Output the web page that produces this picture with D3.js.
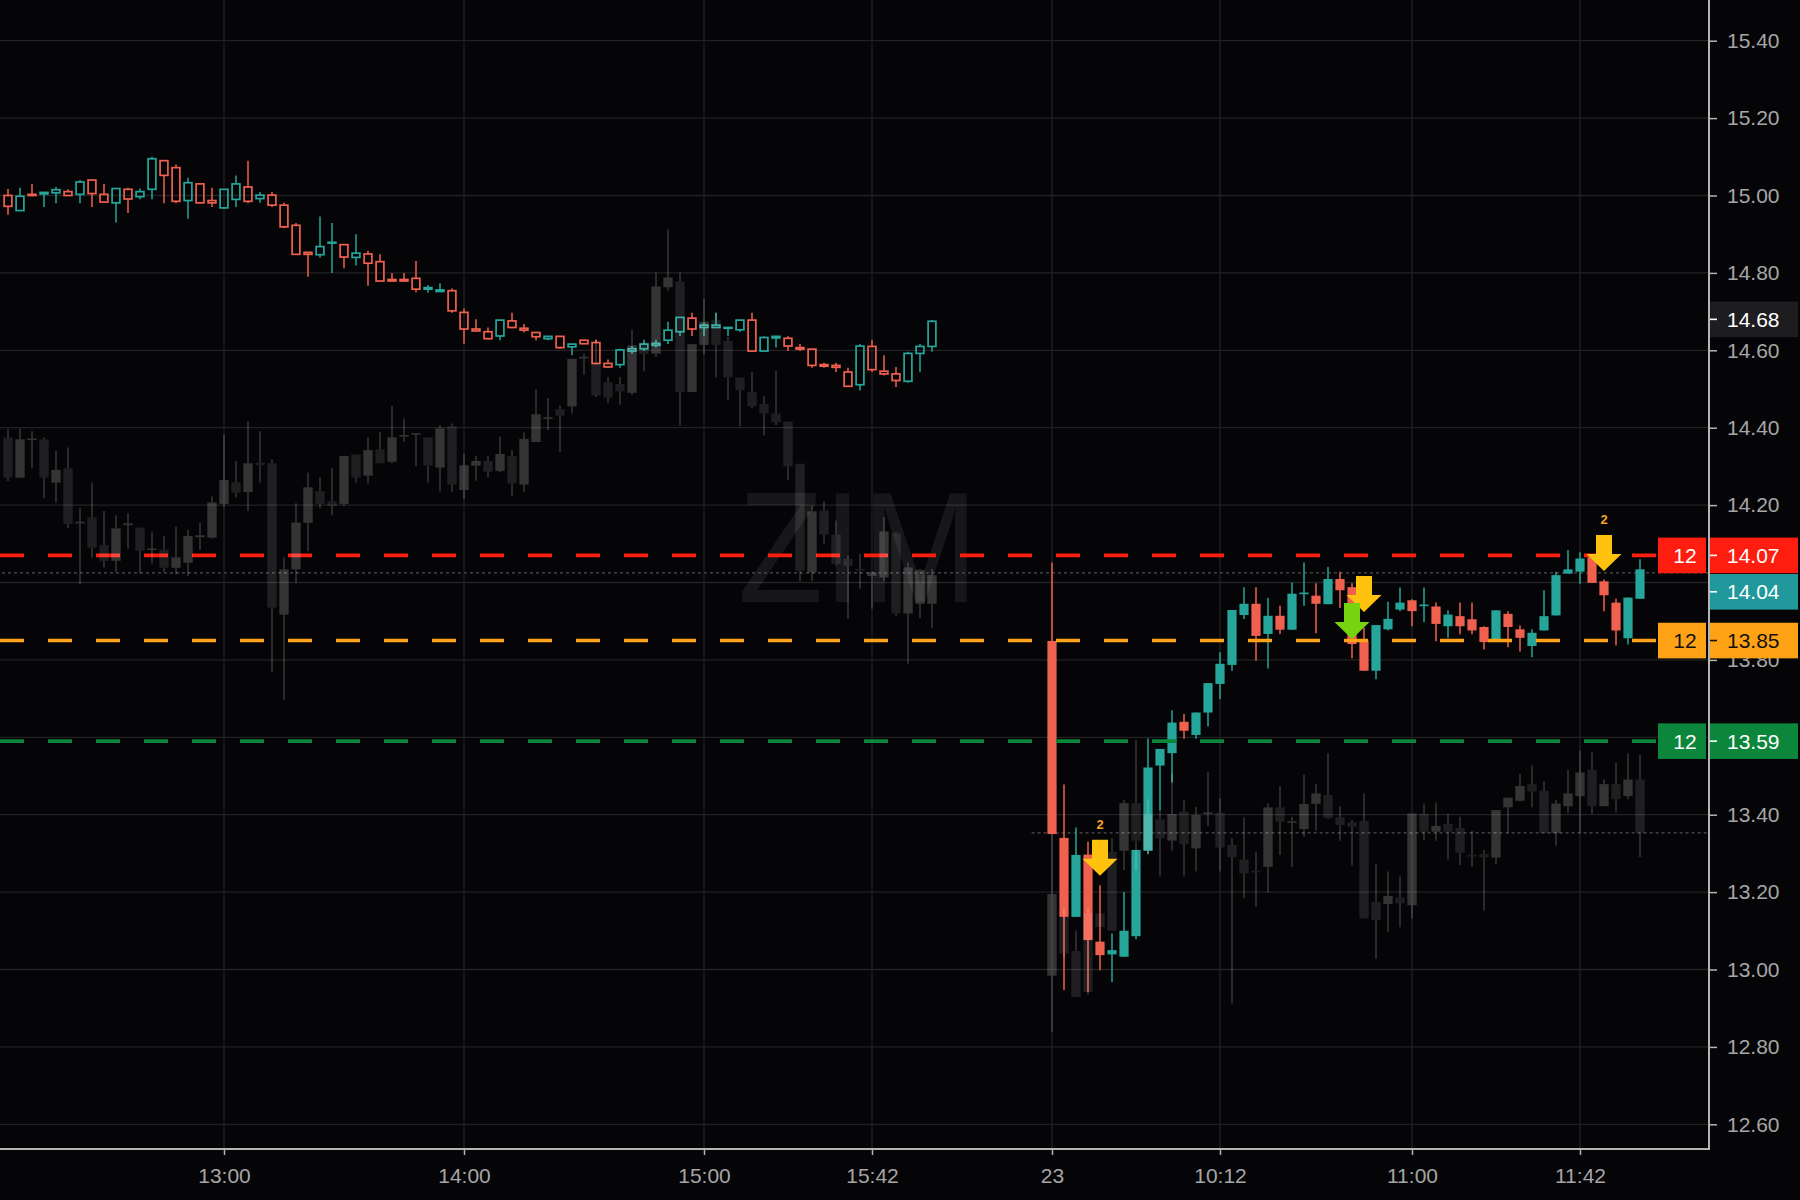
<!DOCTYPE html>
<html><head><meta charset="utf-8">
<script src="https://cdn.jsdelivr.net/npm/d3@7"></script>
<style>html,body{margin:0;padding:0;background:#050507;} svg{display:block}</style>
</head><body>
<svg id="chart" width="1800" height="1200"></svg>
<script>
// ---------- DATA ----------
// previous session (12:06 .. 15:57, 3-minute bars) [open, high, low, close]
const leftCandles = [
[15.00,15.017,14.95,14.972],[14.961,15.02,14.96,14.998],[15.003,15.03,14.998,15.00],[15.004,15.009,14.97,15.008],
[15.007,15.022,14.98,15.015],[15.01,15.016,15.00,15.00],[15.003,15.04,14.98,15.035],[15.04,15.04,14.97,15.005],
[15.003,15.03,14.983,14.983],[14.981,15.018,14.93,15.018],[15.016,15.02,14.955,14.991],[14.997,15.018,14.99,15.01],
[15.016,15.10,14.99,15.095],[15.09,15.09,14.98,15.052],[15.072,15.08,14.98,14.985],[14.987,15.046,14.94,15.033],
[15.03,15.03,14.981,14.981],[14.987,15.02,14.97,14.981],[14.968,15.016,14.965,15.016],[14.99,15.052,14.97,15.03],
[15.022,15.09,14.98,14.985],[14.992,15.009,14.981,15.001],[15.001,15.009,14.97,14.975],[14.975,14.981,14.916,14.919],
[14.923,14.929,14.848,14.848],[14.853,14.853,14.79,14.848],[14.847,14.946,14.84,14.868],[14.877,14.929,14.80,14.879],
[14.873,14.873,14.812,14.841],[14.84,14.90,14.819,14.851],[14.849,14.857,14.767,14.825],[14.829,14.848,14.779,14.779],
[14.783,14.80,14.779,14.779],[14.783,14.80,14.779,14.779],[14.786,14.831,14.75,14.758],[14.758,14.769,14.749,14.762],
[14.752,14.773,14.752,14.756],[14.754,14.76,14.697,14.702],[14.698,14.708,14.617,14.655],[14.655,14.68,14.65,14.65],
[14.648,14.659,14.628,14.63],[14.637,14.678,14.626,14.678],[14.676,14.697,14.657,14.659],[14.657,14.668,14.646,14.652],
[14.646,14.646,14.626,14.635],[14.63,14.636,14.626,14.636],[14.636,14.636,14.604,14.607],[14.609,14.616,14.587,14.616],
[14.626,14.626,14.617,14.617],[14.62,14.627,14.566,14.566],[14.566,14.576,14.555,14.557],[14.563,14.604,14.555,14.601],
[14.598,14.611,14.591,14.604],[14.604,14.627,14.598,14.616],[14.613,14.627,14.607,14.618],[14.626,14.674,14.616,14.652],
[14.648,14.685,14.637,14.685],[14.683,14.697,14.637,14.655],[14.659,14.672,14.637,14.665],[14.659,14.697,14.657,14.665],
[14.657,14.659,14.637,14.659],[14.653,14.678,14.648,14.678],[14.678,14.697,14.598,14.598],[14.598,14.636,14.598,14.633],
[14.632,14.636,14.607,14.636],[14.631,14.636,14.598,14.611],[14.607,14.616,14.598,14.603],[14.603,14.604,14.555,14.561],
[14.563,14.568,14.555,14.559],[14.561,14.568,14.544,14.556],[14.544,14.555,14.507,14.507],[14.511,14.616,14.496,14.611],
[14.61,14.627,14.544,14.55],[14.546,14.587,14.535,14.539],[14.539,14.557,14.505,14.522],[14.52,14.596,14.516,14.592],
[14.592,14.616,14.544,14.61],[14.61,14.678,14.596,14.675]
];
// current session (09:30 .. 11:57)
const rightCandles = [
[13.849,14.052,13.35,13.35],[13.34,13.478,12.947,13.136],[13.136,13.367,13.136,13.296],[13.297,13.33,12.942,13.076],
[13.072,13.218,12.998,13.037],[13.039,13.093,12.968,13.05],[13.033,13.20,13.033,13.10],[13.086,13.309,13.078,13.309],
[13.307,13.597,13.298,13.522],[13.527,13.57,13.41,13.57],[13.559,13.67,13.483,13.638],[13.64,13.66,13.596,13.617],
[13.606,13.664,13.596,13.664],[13.664,13.74,13.628,13.74],[13.738,13.82,13.698,13.79],[13.787,13.929,13.772,13.929],
[13.916,13.988,13.906,13.945],[13.945,13.988,13.798,13.862],[13.867,13.96,13.778,13.914],[13.914,13.94,13.867,13.878],
[13.878,14.00,13.878,13.971],[13.97,14.052,13.94,13.974],[13.966,13.998,13.869,13.945],[13.944,14.04,13.944,14.009],
[14.009,14.028,13.934,13.98],[13.988,13.998,13.804,13.841],[13.85,13.884,13.772,13.772],[13.772,13.89,13.75,13.89],
[13.879,13.95,13.876,13.906],[13.93,13.987,13.926,13.948],[13.954,13.957,13.887,13.926],[13.939,13.987,13.898,13.943],
[13.938,13.948,13.848,13.893],[13.887,13.928,13.857,13.917],[13.913,13.948,13.866,13.887],[13.905,13.948,13.866,13.876],
[13.885,13.887,13.827,13.846],[13.846,13.928,13.846,13.928],[13.919,13.926,13.833,13.885],[13.879,13.889,13.822,13.857],
[13.836,13.879,13.807,13.87],[13.876,13.98,13.876,13.913],[13.915,14.028,13.915,14.019],[14.023,14.084,14.023,14.034],
[14.028,14.078,13.997,14.062],[14.068,14.068,13.999,13.999],[14.003,14.008,13.926,13.967],[13.948,13.958,13.837,13.876],
[13.856,13.961,13.84,13.961],[13.958,14.06,13.958,14.034]
];
// overlaid comparison series (grey), previous session
const leftGrey = [
[14.375,14.397,14.262,14.271],[14.271,14.398,14.271,14.37],[14.368,14.391,14.295,14.372],[14.37,14.375,14.218,14.271],
[14.258,14.34,14.207,14.291],[14.295,14.349,14.14,14.151],[14.153,14.193,13.996,14.157],[14.168,14.258,14.064,14.09],
[14.097,14.185,14.039,14.056],[14.056,14.174,14.028,14.14],[14.148,14.179,14.088,14.153],[14.142,14.142,14.024,14.082],
[14.084,14.13,14.049,14.088],[14.085,14.12,14.028,14.038],[14.038,14.144,14.021,14.065],[14.051,14.136,14.017,14.12],
[14.117,14.155,14.084,14.122],[14.116,14.223,14.114,14.207],[14.203,14.381,14.195,14.265],[14.259,14.314,14.22,14.232],
[14.234,14.417,14.185,14.308],[14.31,14.391,14.258,14.303],[14.308,14.318,13.769,13.935],[13.917,14.065,13.697,14.034],
[14.034,14.205,13.998,14.155],[14.154,14.284,14.081,14.246],[14.236,14.271,14.192,14.203],[14.21,14.295,14.174,14.198],
[14.203,14.327,14.198,14.327],[14.331,14.331,14.258,14.271],[14.276,14.375,14.256,14.342],[14.344,14.388,14.308,14.308],
[14.312,14.456,14.308,14.375],[14.377,14.424,14.364,14.381],[14.382,14.386,14.301,14.386],[14.375,14.375,14.258,14.302],
[14.297,14.407,14.235,14.398],[14.404,14.411,14.234,14.253],[14.239,14.332,14.216,14.303],[14.302,14.327,14.263,14.314],
[14.314,14.327,14.272,14.286],[14.288,14.377,14.285,14.332],[14.327,14.342,14.223,14.256],[14.253,14.388,14.234,14.371],
[14.363,14.498,14.363,14.435],[14.423,14.477,14.394,14.427],[14.448,14.457,14.337,14.431],[14.455,14.578,14.437,14.578],
[14.579,14.592,14.537,14.583],[14.565,14.628,14.479,14.483],[14.517,14.531,14.463,14.478],[14.513,14.531,14.459,14.494],
[14.49,14.653,14.485,14.613],[14.62,14.62,14.546,14.591],[14.591,14.801,14.583,14.765],[14.763,14.912,14.754,14.788],
[14.778,14.801,14.405,14.492],[14.492,14.616,14.492,14.616],[14.614,14.733,14.59,14.674],[14.678,14.697,14.53,14.614],
[14.624,14.635,14.47,14.53],[14.53,14.53,14.403,14.497],[14.492,14.544,14.45,14.455],[14.461,14.481,14.38,14.437],
[14.437,14.548,14.407,14.414],[14.416,14.416,14.264,14.30],[14.307,14.307,14.004,14.03],[14.026,14.197,14.004,14.184],
[14.186,14.21,14.101,14.124],[14.124,14.16,14.044,14.048],[14.061,14.069,13.906,14.043],[14.035,14.074,13.984,14.031],
[14.017,14.03,13.932,14.026],[14.013,14.169,14.004,14.132],[14.127,14.13,13.913,13.92],[13.92,14.052,13.79,14.039],
[13.945,14.035,13.908,14.032],[13.945,14.035,13.882,14.019]
];
// overlaid comparison series (grey), current session
const rightGrey = [
[12.984,13.35,12.839,13.195],[13.136,13.16,13.032,13.041],[13.048,13.10,12.929,12.929],[13.145,13.16,12.935,12.942],
[13.145,13.145,13.11,13.11],[13.304,13.339,13.10,13.10],[13.307,13.438,13.257,13.43],[13.43,13.593,13.257,13.333],
[13.307,13.44,13.30,13.402],[13.388,13.408,13.24,13.339],[13.333,13.507,13.307,13.402],[13.408,13.438,13.24,13.324],
[13.313,13.42,13.253,13.399],[13.403,13.511,13.371,13.406],[13.405,13.442,13.253,13.315],[13.322,13.339,12.912,13.29],
[13.284,13.393,13.184,13.248],[13.255,13.304,13.162,13.252],[13.265,13.429,13.199,13.419],[13.419,13.474,13.296,13.382],
[13.381,13.395,13.265,13.383],[13.363,13.503,13.343,13.428],[13.428,13.479,13.359,13.455],[13.451,13.559,13.389,13.391],
[13.393,13.422,13.333,13.373],[13.38,13.386,13.268,13.369],[13.384,13.455,13.132,13.132],[13.175,13.272,13.028,13.128],
[13.169,13.253,13.097,13.19],[13.186,13.24,13.109,13.171],[13.166,13.403,13.132,13.403],[13.402,13.429,13.334,13.356],
[13.356,13.431,13.333,13.371],[13.376,13.402,13.284,13.356],[13.366,13.395,13.27,13.302],[13.296,13.358,13.265,13.293],
[13.298,13.309,13.152,13.29],[13.289,13.412,13.272,13.412],[13.419,13.444,13.353,13.444],[13.436,13.505,13.434,13.474],
[13.479,13.528,13.419,13.46],[13.462,13.487,13.353,13.353],[13.353,13.438,13.32,13.429],[13.422,13.516,13.405,13.455],
[13.448,13.565,13.353,13.509],[13.516,13.561,13.402,13.422],[13.422,13.491,13.422,13.479],[13.479,13.535,13.406,13.44],
[13.448,13.559,13.44,13.491],[13.491,13.554,13.291,13.353]
];
const rightSessionSlot = 87;          // slot of 09:30 on the shared bar axis
const priceTicks = [12.6,12.8,13.0,13.2,13.4,13.6,13.8,14.0,14.2,14.4,14.6,14.8,15.0,15.2,15.4];
const timeTickSlots = [18,38,58,72,87,101,117,131];
const timeTickLabels = ["13:00","14:00","15:00","15:42","23","10:12","11:00","11:42"];
const levelPrices = [14.07,13.85,13.59];
const levelColors = ["#ff1d10","#ffa215","#0b863b"];
const levelTextColors = ["#ffffff","#111111","#ffffff"];
const levelCount = "12";
const dottedPrices = [14.025,13.353];
const dottedStartSlots = [-1,85.3];
const labelValues = [14.68,14.07,14.04,13.85,13.59];
const labelTexts = ["14.68","14.07","14.04","13.85","13.59"];
const labelColors = ["#1d1d20","#ff1d10","#21989b","#ffa215","#0b863b"];
const labelTextColors = ["#ffffff","#ffffff","#ffffff","#111111","#ffffff"];
const signalSlots = [4,26,25,46];      // bar index in current session
const signalTips = [13.242,13.924,13.854,14.03];
const signalColors = ["#ffc20e","#ffc20e","#78d30f","#ffc20e"];
const signalLabels = ["2","","","2"];
const watermark = "ZIM";

// ---------- CHART ----------
const W = 1800, H = 1200, plotR = 1709, plotB = 1149;
const FONT = "'Liberation Sans', Arial, sans-serif";
const up = "#26a69a", down = "#f0604f";
const LH = 35.6;
const svg = d3.select("#chart");
svg.append("rect").attr("width", W).attr("height", H).attr("fill", "#050507");

const x = d3.scaleLinear().domain([0, 1]).range([8, 20]);
const y = d3.scaleLinear().domain([12.6, 15.4]).range([1124.3, 40.7]);

// price label placement (simple collision avoidance)
const order = d3.range(labelValues.length).sort((a, b) => y(labelValues[a]) - y(labelValues[b]));
const centers = [];
let lastBottom = -Infinity;
order.forEach(i => {
  const top = Math.max(y(labelValues[i]) - LH / 2, lastBottom + 0.8);
  centers[i] = top + LH / 2; lastBottom = top + LH;
});
// axis tick labels that would be completely hidden under a price label are not drawn
const visibleTicks = priceTicks.filter(t => centers.every(c => Math.abs(y(t) - c) > LH / 2 - 7));

svg.append("defs").append("clipPath").attr("id", "plot")
  .append("rect").attr("x", 0).attr("y", 0).attr("width", plotR).attr("height", plotB);
const plot = svg.append("g").attr("clip-path", "url(#plot)");

// grid
plot.append("g").selectAll("line").data(priceTicks).join("line")
  .attr("x1", 0).attr("x2", plotR).attr("y1", d => y(d)).attr("y2", d => y(d))
  .attr("stroke", "#222225").attr("stroke-width", 1.3);
plot.append("g").selectAll("line").data(timeTickSlots).join("line")
  .attr("x1", d => x(d)).attr("x2", d => x(d)).attr("y1", 0).attr("y2", plotB)
  .attr("stroke", "#222225").attr("stroke-width", 1.3);

// watermark
plot.append("text").text(watermark)
  .attr("x", 738).attr("y", 602).attr("font-family", FONT).attr("font-size", 158)
  .attr("textLength", 240).attr("lengthAdjust", "spacingAndGlyphs")
  .attr("fill", "#ffffff").attr("fill-opacity", 0.075);

// dotted reference lines
plot.append("g").selectAll("line").data(dottedPrices).join("line")
  .attr("x1", (d, i) => x(dottedStartSlots[i])).attr("x2", plotR)
  .attr("y1", d => y(d)).attr("y2", d => y(d))
  .attr("stroke", "#505055").attr("stroke-width", 1.3).attr("stroke-dasharray", "3,3");

// previous session: hollow candles
const lc = plot.append("g").selectAll("g").data(leftCandles).join("g");
lc.each(function (d, i) {
  const [o, h, l, c] = d, g = d3.select(this), cx = x(i);
  const col = c >= o ? up : down;
  const top = y(Math.max(o, c)), bot = y(Math.min(o, c));
  g.append("line").attr("x1", cx).attr("x2", cx).attr("y1", y(h)).attr("y2", top)
    .attr("stroke", col).attr("stroke-width", 1.5);
  g.append("line").attr("x1", cx).attr("x2", cx).attr("y1", bot).attr("y2", y(l))
    .attr("stroke", col).attr("stroke-width", 1.5);
  g.append("rect").attr("x", cx - 3.9).attr("width", 7.8).attr("y", top)
    .attr("height", Math.max(bot - top, 0.6))
    .attr("fill", "none").attr("stroke", col).attr("stroke-width", 1.7);
});

// current session: filled candles
const rc = plot.append("g").selectAll("g").data(rightCandles).join("g");
rc.each(function (d, i) {
  const [o, h, l, c] = d, g = d3.select(this), cx = x(rightSessionSlot + i);
  const col = c >= o ? up : down;
  const top = y(Math.max(o, c)), bot = y(Math.min(o, c));
  g.append("line").attr("x1", cx).attr("x2", cx).attr("y1", y(h)).attr("y2", y(l))
    .attr("stroke", col).attr("stroke-width", 1.5);
  g.append("rect").attr("x", cx - 4.6).attr("width", 9.2).attr("y", top)
    .attr("height", Math.max(bot - top, 1.6)).attr("fill", col);
});

// level lines
plot.append("g").selectAll("line").data(levelPrices).join("line")
  .attr("x1", 0).attr("x2", 1657).attr("y1", d => y(d)).attr("y2", d => y(d))
  .attr("stroke", (d, i) => levelColors[i]).attr("stroke-width", 3.6)
  .attr("stroke-dasharray", "24,24");

// grey comparison candles (translucent, drawn on top)
function greyCandles(data, slot0) {
  const gg = plot.append("g").selectAll("g").data(data).join("g");
  gg.each(function (d, i) {
    const [o, h, l, c] = d, g = d3.select(this), cx = x(slot0 + i);
    const top = y(Math.max(o, c)), bot = y(Math.min(o, c));
    const bh = Math.max(bot - top, 1.6);
    g.append("line").attr("x1", cx).attr("x2", cx).attr("y1", y(h)).attr("y2", top)
      .attr("stroke", "#ffffff").attr("stroke-opacity", 0.2).attr("stroke-width", 1.5);
    g.append("line").attr("x1", cx).attr("x2", cx).attr("y1", top + bh).attr("y2", y(l))
      .attr("stroke", "#ffffff").attr("stroke-opacity", 0.2).attr("stroke-width", 1.5);
    g.append("rect").attr("x", cx - 4.7).attr("width", 9.4).attr("y", top).attr("height", bh)
      .attr("fill", "#ffffff").attr("fill-opacity", c >= o ? 0.19 : 0.105);
  });
}
greyCandles(leftGrey, 0);
greyCandles(rightGrey, rightSessionSlot);

// signal arrows
const sig = plot.append("g").selectAll("g").data(signalSlots).join("g");
sig.each(function (s, i) {
  const tx = x(rightSessionSlot + s), ty = y(signalTips[i]), g = d3.select(this);
  const p = d3.path();
  p.moveTo(tx - 8, ty - 36); p.lineTo(tx + 8, ty - 36); p.lineTo(tx + 8, ty - 17);
  p.lineTo(tx + 17.5, ty - 17); p.lineTo(tx, ty); p.lineTo(tx - 17.5, ty - 17);
  p.lineTo(tx - 8, ty - 17); p.closePath();
  g.append("path").attr("d", p.toString()).attr("fill", signalColors[i]);
  if (signalLabels[i]) g.append("text").text(signalLabels[i])
    .attr("x", tx).attr("y", ty - 47).attr("text-anchor", "middle")
    .attr("font-family", FONT).attr("font-size", 13).attr("font-weight", "bold")
    .attr("fill", "#f5a623");
});

// axes
const yAxis = d3.axisRight(y).tickValues(priceTicks)
  .tickFormat(d => visibleTicks.includes(d) ? d3.format(".2f")(d) : "")
  .tickSize(8).tickPadding(10);
const ya = svg.append("g").attr("transform", `translate(${plotR},0)`).call(yAxis);
ya.select(".domain").remove();
ya.selectAll("line").attr("stroke", "#b4b4b4").attr("stroke-width", 1.5);
ya.selectAll("text").filter(function () { return this.textContent === ""; }).remove();
ya.selectAll("text").attr("fill", "#a6a6a6").attr("font-family", FONT).attr("font-size", 21);

const xAxis = d3.axisBottom(x).tickValues(timeTickSlots)
  .tickFormat((d, i) => timeTickLabels[i]).tickSize(6).tickPadding(13);
const xa = svg.append("g").attr("transform", `translate(0,${plotB})`).call(xAxis);
xa.select(".domain").remove();
xa.selectAll("line").attr("stroke", "#b4b4b4").attr("stroke-width", 1.5);
xa.selectAll("text").attr("fill", "#a6a6a6").attr("font-family", FONT).attr("font-size", 21);

svg.append("line").attr("x1", plotR).attr("x2", plotR).attr("y1", 0).attr("y2", plotB + 1)
  .attr("stroke", "#b4b4b4").attr("stroke-width", 2);
svg.append("line").attr("x1", 0).attr("x2", plotR + 1).attr("y1", plotB).attr("y2", plotB)
  .attr("stroke", "#b4b4b4").attr("stroke-width", 2);

// level count boxes
const cb = svg.append("g").selectAll("g").data(levelPrices).join("g");
cb.append("rect").attr("x", 1658).attr("width", 48).attr("y", d => y(d) - LH / 2).attr("height", LH)
  .attr("fill", (d, i) => levelColors[i]);
cb.append("text").text(levelCount).attr("x", 1685).attr("y", d => y(d)).attr("dy", "0.36em")
  .attr("text-anchor", "middle").attr("font-family", FONT).attr("font-size", 21)
  .attr("fill", (d, i) => levelTextColors[i]);

// price labels
const pl = svg.append("g").selectAll("g").data(labelValues).join("g");
pl.append("rect").attr("x", 1710).attr("width", 88).attr("y", (d, i) => centers[i] - LH / 2)
  .attr("height", LH).attr("fill", (d, i) => labelColors[i]);
pl.append("line").attr("x1", 1710).attr("x2", 1717).attr("y1", (d, i) => centers[i])
  .attr("y2", (d, i) => centers[i]).attr("stroke", (d, i) => labelTextColors[i]).attr("stroke-width", 1.6);
pl.append("text").text((d, i) => labelTexts[i]).attr("x", 1727).attr("y", (d, i) => centers[i])
  .attr("dy", "0.36em").attr("font-family", FONT).attr("font-size", 21)
  .attr("fill", (d, i) => labelTextColors[i]);
</script>
</body></html>
